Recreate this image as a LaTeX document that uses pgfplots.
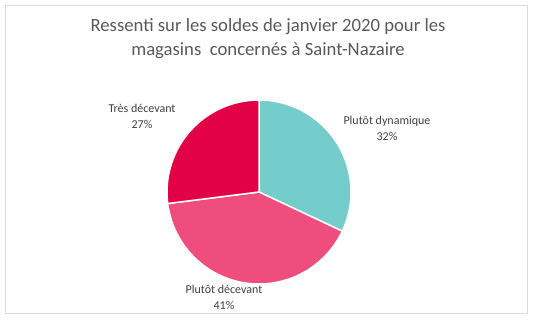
\documentclass[border=0pt]{standalone}
\usepackage{fontspec}
\setmainfont{Carlito}
\usepackage{pgfplots}
\pgfplotsset{compat=1.18}
\definecolor{cTeal}{HTML}{75CDCB}
\definecolor{cPink}{HTML}{EE4D7E}
\definecolor{cCrim}{HTML}{E20046}
\definecolor{cTitle}{HTML}{595959}
\definecolor{cLab}{HTML}{404040}
\definecolor{cBorder}{HTML}{D9D9D9}
% shares (percent)
\def\pA{32}% Plutôt dynamique
\def\pB{41}% Plutôt décevant
\def\pC{27}% Très décevant
\pgfmathsetmacro\aZero{90}
\pgfmathsetmacro\aOne{90-3.6*\pA}
\pgfmathsetmacro\aTwo{\aOne-3.6*\pB}
\pgfmathsetmacro\aThree{\aTwo-3.6*\pC}
\begin{document}
\begin{tikzpicture}
\begin{axis}[
  width=535bp, height=321bp, scale only axis,
  xmin=0, xmax=535, ymin=0, ymax=321,
  hide axis, clip=false,
]
\path[draw=none] (axis cs:0,0) rectangle (axis cs:535,321);
\draw[cBorder, line width=1bp] (axis cs:5.5,7) rectangle (axis cs:527,315.5);
\addplot[fill=cTeal, draw=white, line width=1.5bp, domain=\aOne:\aZero, samples=80, variable=\t]
  ({259+92*cos(t)},{129+92*sin(t)}) -- (axis cs:259,129) -- cycle;
\addplot[fill=cPink, draw=white, line width=1.5bp, domain=\aTwo:\aOne, samples=100, variable=\t]
  ({259+92*cos(t)},{129+92*sin(t)}) -- (axis cs:259,129) -- cycle;
\addplot[fill=cCrim, draw=white, line width=1.5bp, domain=\aThree:\aTwo, samples=70, variable=\t]
  ({259+92*cos(t)},{129+92*sin(t)}) -- (axis cs:259,129) -- cycle;
\node[align=center, text=cTitle, font=\fontsize{18.7bp}{24bp}\selectfont] at (axis cs:268,282)
  {Ressenti sur les soldes de janvier 2020 pour les\\magasins\ \ concernés à Saint-Nazaire};
\node[align=center, text=cLab, font=\fontsize{12bp}{16bp}\selectfont] at (axis cs:142,205) {Très décevant\\27\%};
\node[align=center, text=cLab, font=\fontsize{12bp}{16bp}\selectfont] at (axis cs:387,193) {Plutôt dynamique\\32\%};
\node[align=center, text=cLab, font=\fontsize{12bp}{16bp}\selectfont] at (axis cs:224,24) {Plutôt décevant\\41\%};
\end{axis}
\end{tikzpicture}
\end{document}
